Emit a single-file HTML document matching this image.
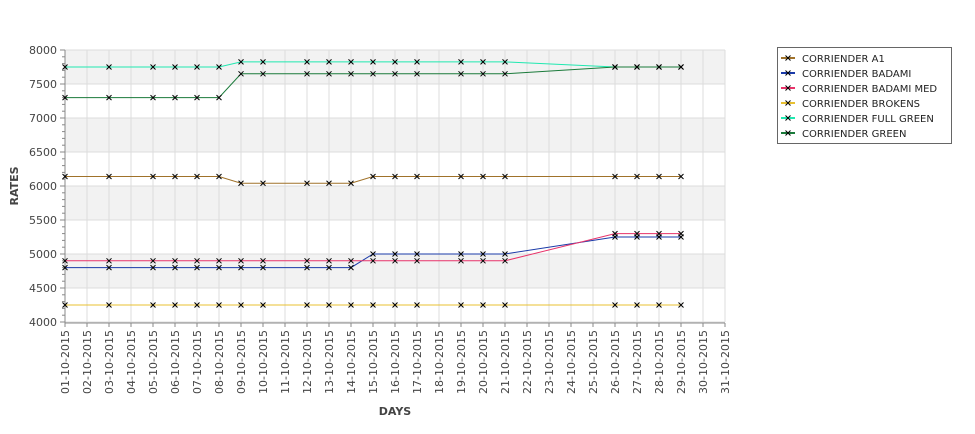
<!DOCTYPE html>
<html><head><meta charset="utf-8"><style>
body{margin:0;background:#fff;font-family:"Liberation Sans","DejaVu Sans",sans-serif}
svg text{font-family:"DejaVu Sans","Liberation Sans",sans-serif}
</style></head><body>
<svg id="chart" width="975" height="429" xmlns="http://www.w3.org/2000/svg">
<g id="bands"></g><g id="grid"></g><g id="axes"></g><g id="series"></g><g id="legend"></g>
<text x="395" y="415" font-size="11" font-weight="bold" fill="#444" text-anchor="middle">DAYS</text>
<text transform="translate(18,186) rotate(-90)" font-size="11" font-weight="bold" fill="#444" text-anchor="middle">RATES</text>
</svg>
<script>
const days=[1,3,5,6,7,8,9,10,12,13,14,15,16,17,19,20,21,26,27,28,29];
const seriesNames=["CORRIENDER A1","CORRIENDER BADAMI","CORRIENDER BADAMI MED","CORRIENDER BROKENS","CORRIENDER FULL GREEN","CORRIENDER GREEN"];
const seriesColors=["#a0722a","#1a3aa8","#e8336a","#e8c030","#20e8b0","#1a7a3a"];
const a1=[6140,6140,6140,6140,6140,6140,6040,6040,6040,6040,6040,6140,6140,6140,6140,6140,6140,6140,6140,6140,6140];
const badami=[4800,4800,4800,4800,4800,4800,4800,4800,4800,4800,4800,5000,5000,5000,5000,5000,5000,5250,5250,5250,5250];
const badamiMed=[4900,4900,4900,4900,4900,4900,4900,4900,4900,4900,4900,4900,4900,4900,4900,4900,4900,5300,5300,5300,5300];
const brokens=[4250,4250,4250,4250,4250,4250,4250,4250,4250,4250,4250,4250,4250,4250,4250,4250,4250,4250,4250,4250,4250];
const fullGreen=[7750,7750,7750,7750,7750,7750,7825,7825,7825,7825,7825,7825,7825,7825,7825,7825,7825,7750,7750,7750,7750];
const green=[7300,7300,7300,7300,7300,7300,7650,7650,7650,7650,7650,7650,7650,7650,7650,7650,7650,7750,7750,7750,7750];
const yTicks=[4000,4500,5000,5500,6000,6500,7000,7500,8000];
const allSeries=[a1,badami,badamiMed,brokens,fullGreen,green];
const NS="http://www.w3.org/2000/svg";
const X0=65,X1=725,Y0=322,Y1=50,YMIN=4000,YMAX=8000;
const x=d=>X0+(d-1)*(X1-X0)/30;
const y=v=>Y0-(v-YMIN)*(Y0-Y1)/(YMAX-YMIN);
function mk(p,t,a){const e=document.createElementNS(NS,t);for(const k in a)e.setAttribute(k,a[k]);p.appendChild(e);return e;}
const bands=document.getElementById('bands'),grid=document.getElementById('grid'),axes=document.getElementById('axes'),ser=document.getElementById('series'),leg=document.getElementById('legend');
mk(bands,'rect',{x:X0,y:Y1,width:X1-X0,height:Y0-Y1,fill:'#fff'});
for(let i=0;i<yTicks.length-1;i++){if(i%2===1){const r=mk(bands,'rect',{x:X0,y:y(yTicks[i+1]),width:X1-X0,height:y(yTicks[i])-y(yTicks[i+1]),fill:'#f2f2f2'});

}}
for(let d=1;d<=31;d++){mk(grid,'line',{x1:x(d),x2:x(d),y1:Y1,y2:Y0,stroke:'#dcdcdc','stroke-width':1});}
yTicks.forEach(v=>{mk(grid,'line',{x1:X0,x2:X1,y1:y(v),y2:y(v),stroke:'#dcdcdc','stroke-width':1});
const t=mk(axes,'text',{x:X0-8,y:y(v)+4,'font-size':11,fill:'#444','text-anchor':'end'});t.textContent=v;


mk(axes,'line',{x1:X0-5,x2:X0,y1:y(v),y2:y(v),stroke:'#888'});});
for(let v=YMIN;v<=YMAX;v+=100){mk(axes,'line',{x1:X0-3,x2:X0,y1:y(v),y2:y(v),stroke:'#888'});}
mk(axes,'line',{x1:X0,x2:X0,y1:Y1,y2:Y0+1,stroke:'#888'});
mk(axes,'line',{x1:X0,x2:X1,y1:Y0+1,y2:Y0+1,stroke:'#888'});
for(let d=1;d<=31;d++){mk(axes,'line',{x1:x(d),x2:x(d),y1:Y0+1,y2:Y0+5,stroke:'#888'});
const t=mk(axes,'text',{transform:`translate(${x(d)+4},${Y0+8}) rotate(-90)`,'font-size':11,fill:'#444','text-anchor':'end'});
t.textContent=String(d).padStart(2,'0')+'-10-2015';

}
function cross(p,cx,cy){mk(p,'path',{d:`M${cx-2.5},${cy-2.5}L${cx+2.5},${cy+2.5}M${cx-2.5},${cy+2.5}L${cx+2.5},${cy-2.5}`,stroke:'#000','stroke-width':1});}
allSeries.forEach((vals,i)=>{const g=mk(ser,'g',{});


mk(g,'polyline',{points:vals.map((v,j)=>x(days[j])+','+y(v)).join(' '),fill:'none',stroke:seriesColors[i],'stroke-width':1});
vals.forEach((v,j)=>cross(g,x(days[j]),y(v)));});
const lb=mk(leg,'rect',{x:777.5,y:47.5,width:174,height:96,fill:'#fff',stroke:'#666'});


seriesNames.forEach((n,i)=>{const cy=58+i*15;const g=mk(leg,'g',{});


mk(g,'line',{x1:781,x2:795,y1:cy,y2:cy,stroke:seriesColors[i],'stroke-width':2});cross(g,788,cy);
const t=mk(g,'text',{x:802,y:cy+4,'font-size':10,fill:'#222'});t.textContent=n;});
</script>
</body></html>
